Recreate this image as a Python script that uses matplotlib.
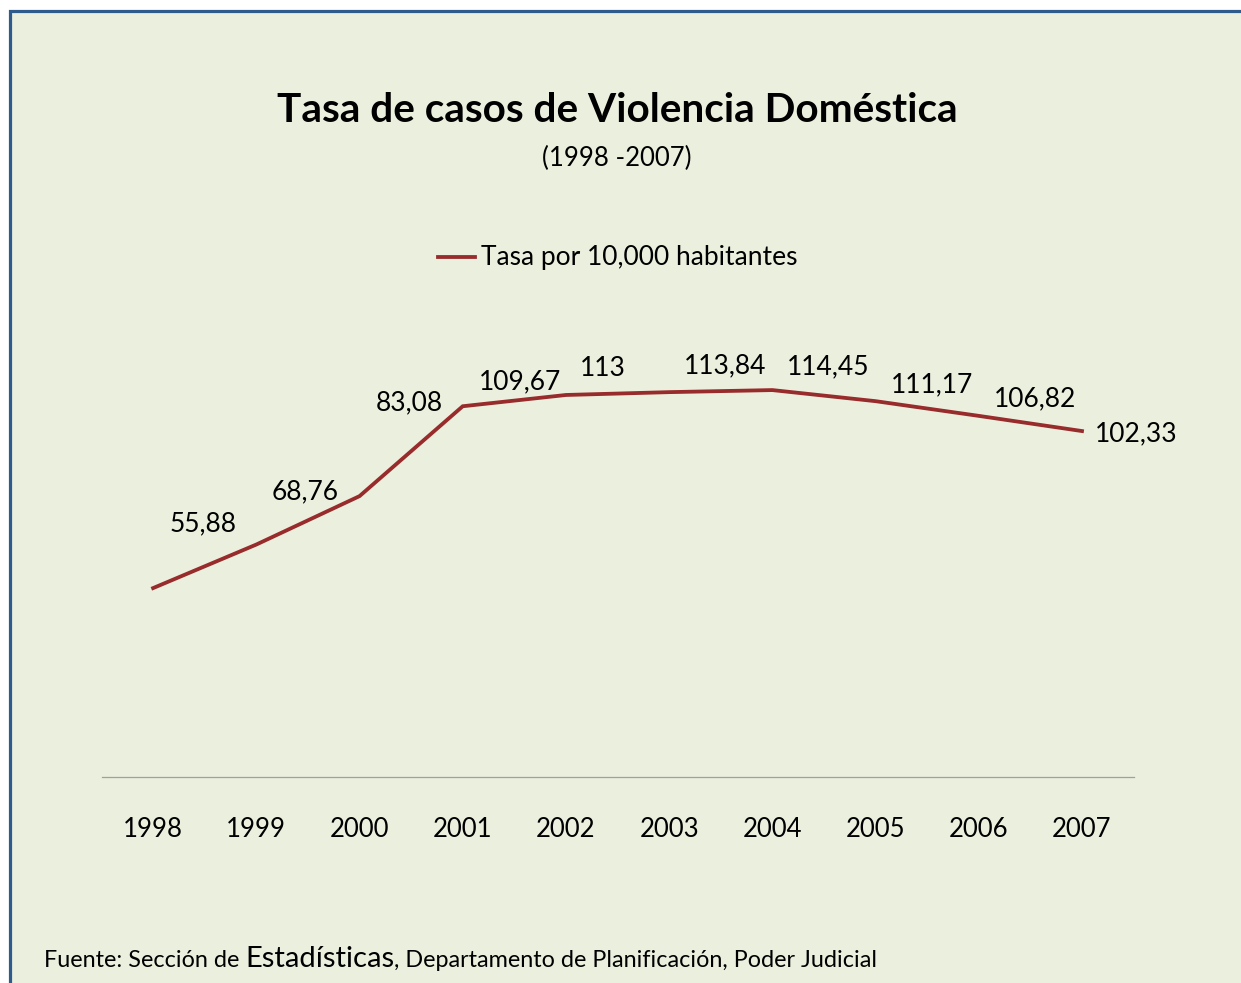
import matplotlib
matplotlib.use("Agg")
import matplotlib.pyplot as plt
from matplotlib.patches import Rectangle

# ---- data ----
years = ["1998", "1999", "2000", "2001", "2002", "2003", "2004", "2005", "2006", "2007"]
rates = [55.88, 68.76, 83.08, 109.67, 113.00, 113.84, 114.45, 111.17, 106.82, 102.33]
rate_labels = ["55,88", "68,76", "83,08", "109,67", "113", "113,84", "114,45", "111,17", "106,82", "102,33"]
series_name = "Tasa por 10,000 habitantes"
title = "Tasa de casos de Violencia Doméstica"
subtitle = "(1998 -2007)"
source_parts = ["Fuente: Sección de ", "Estadísticas", ", Departamento de Planificación, Poder Judicial"]

# ---- style ----
W, H, DPI = 1241, 983, 100
BG = "#EBF0DE"
BORDER = "#2E5B8C"
LINE = "#982B2B"
FONT = "Lato"
plt.rcParams["font.family"] = [FONT, "DejaVu Sans"]

# label offsets in pixels (dx, dy upward) relative to each point
label_offsets = [(50, 64), (49, 53), (50, 93), (57, 24), (37, 26),
                 (56, 26), (56, 23), (56, 16), (56, 17), (54, -3)]

fig = plt.figure(figsize=(W / DPI, H / DPI), dpi=DPI)
fig.patch.set_facecolor("white")

def fx(px):
    return px / W

def fy(py):
    return 1 - py / H

# chart frame (extends beyond right/bottom edges)
frame = Rectangle((fx(9.5), fy(H + 20)), fx(W + 40), fy(10.5) - fy(H + 20),
                  transform=fig.transFigure, facecolor=BG, edgecolor=BORDER,
                  linewidth=3.2 * 72 / DPI, clip_on=False, zorder=-5)
fig.patches.append(frame)

left, right = 101.5, 1133.6
bottom, top = 777, 303.7
ax = fig.add_axes([fx(left), fy(bottom), fx(right - left), fy(top) - fy(bottom)])
ax.set_facecolor("none")
ax.set_zorder(2)
x = list(range(len(years)))
ax.plot(x, rates, color=LINE, linewidth=3.8 * 72 / DPI, solid_joinstyle="miter",
        label=series_name, zorder=3)
ax.set_xlim(-0.5, len(years) - 0.5)
ax.set_ylim(0, 140)
ax.set_xticks(x)
ax.set_xticklabels(years, fontsize=18.5, color="#000000")
ax.tick_params(axis="x", length=0, pad=40 * 72 / DPI)
ax.set_yticks([])
for s in ["top", "right", "left"]:
    ax.spines[s].set_visible(False)
ax.spines["bottom"].set_color("#A0A0A0")
ax.spines["bottom"].set_linewidth(1.3 * 72 / DPI)

for xi, yi, lab, (dx, dy) in zip(x, rates, rate_labels, label_offsets):
    ax.annotate(lab, (xi, yi), xytext=(dx, dy), textcoords="offset pixels",
                ha="center", va="center", fontsize=19, color="#000000",
                annotation_clip=False)

# legend
fig.add_artist(plt.Line2D([fx(438), fx(475)], [fy(257), fy(257)],
                          transform=fig.transFigure, color=LINE,
                          linewidth=3.8 * 72 / DPI))
fig.text(fx(481), fy(258), series_name, ha="left", va="center", fontsize=19)

# titles
fig.text(fx(617), fy(111), title, ha="center", va="center",
         fontsize=29.2, fontweight="bold")
fig.text(fx(617), fy(158), subtitle, ha="center", va="center", fontsize=18.5)

# source line with mixed sizes
fig.canvas.draw()
renderer = fig.canvas.get_renderer()
xpos = fx(44)
base_y = fy(967)
sizes = [16.8, 21, 16.8]
for part, sz in zip(source_parts, sizes):
    t = fig.text(xpos, base_y, part, ha="left", va="baseline", fontsize=sz)
    bb = t.get_window_extent(renderer=renderer)
    xpos += bb.width / W

fig.savefig("out.png", dpi=DPI, facecolor=fig.get_facecolor())
